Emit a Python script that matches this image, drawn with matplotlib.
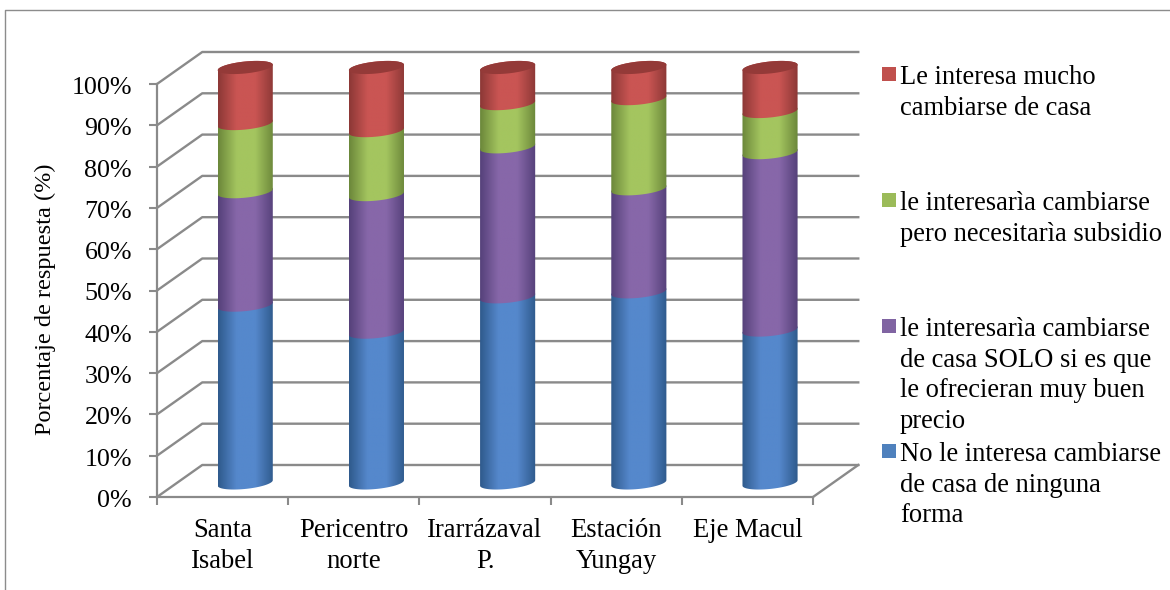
import numpy as np
import matplotlib
matplotlib.use('Agg')
import matplotlib.pyplot as plt
from matplotlib.colors import LinearSegmentedColormap
from matplotlib.patches import PathPatch, Polygon, Rectangle
from matplotlib.path import Path
from matplotlib.transforms import ScaledTranslation

plt.rcParams['font.family'] = ['Liberation Serif', 'DejaVu Serif']

categorias = ['Santa\nIsabel', 'Pericentro\nnorte', 'Irarrázaval\nP.', 'Estación\nYungay', 'Eje Macul']
no_interesa = [42.8, 36.3, 44.8, 46.0, 36.8]
solo_buen_precio = [27.3, 33.1, 36.1, 24.8, 42.7]
con_subsidio = [16.4, 15.4, 10.4, 21.7, 9.9]
interesa_mucho = [13.5, 15.2, 8.7, 7.5, 10.6]
pct_ticks = [0, 10, 20, 30, 40, 50, 60, 70, 80, 90, 100]

series = [no_interesa, solo_buen_precio, con_subsidio, interesa_mucho]
oscuro = ['#2f5a8c', '#55417a', '#6b873a', '#8c3836']
claro = ['#5588cc', '#8767a9', '#a4c55f', '#ca5553']
leyenda = ['No le interesa cambiarse\nde casa de ninguna\nforma',
           'le interesarìa cambiarse\nde casa SOLO si es que\nle ofrecieran muy buen\nprecio',
           'le interesarìa cambiarse\npero necesitarìa subsidio',
           'Le interesa mucho\ncambiarse de casa']
leyenda_y = [440, 315, 189, 63]
leyenda_col = ['#4f81bd', '#8064a2', '#9bbb59', '#c0504d']

W, H = 1170, 590
GRIS = '#8a8a8a'

# profundidad del piso 3D, en unidades de los ejes
DX, DY = 0.345, 7.75
# cilindros
A, B, INCL = 0.21, 1.45, 0.66
LIFT, ESC = 3.4, 1.006

fig = plt.figure(figsize=(W / 100, H / 100), dpi=100)
ax = fig.add_axes([157 / W, 1 - 497 / H, 656 / W, 413 / H])
ax.patch.set_visible(False)
ax.set_xlim(0, 5)
ax.set_ylim(0, 100)

for s in ['top', 'right']:
    ax.spines[s].set_visible(False)
for s in ['left', 'bottom']:
    ax.spines[s].set_color(GRIS)
    ax.spines[s].set_linewidth(1.6)

ax.set_yticks(pct_ticks)
ax.set_yticklabels([f'{p}%' for p in pct_ticks], fontsize=18.7)
ax.set_xticks(range(6))
ax.set_xticklabels([])
ax.set_xticks(np.arange(5) + 0.5, minor=True)
ax.set_xticklabels(categorias, minor=True, fontsize=19.2, linespacing=1.34)
ax.tick_params(axis='y', length=6, width=1.5, color=GRIS, pad=12)
ax.tick_params(axis='x', which='major', length=6, width=1.5, color=GRIS)
ax.tick_params(axis='x', which='minor', length=0, pad=15)
ax.set_ylabel('Porcentaje de respuesta (%)', fontsize=17.5)
ax.yaxis.set_label_coords(-101 / 656, 0.48)

# bajar un poco los porcentajes
baja = ScaledTranslation(0, -1.5 / 100, fig.dpi_scale_trans)
for lab in ax.get_yticklabels():
    lab.set_transform(lab.get_transform() + baja)

# grilla de las paredes
for p in pct_ticks:
    ax.plot([0, DX, 5 + DX], [p, p + DY, p + DY], color=GRIS, lw=1.7, clip_on=False, zorder=1)
ax.plot([5, 5 + DX], [0, DY], color=GRIS, lw=1.7, clip_on=False, zorder=1)


def elipse(cx, cy, t):
    return cx + A * np.cos(t), cy + B * np.sin(t) + INCL * np.cos(t)


def tramo(cx, y0, y1, k, z):
    # un trozo de cilindro con sombreado horizontal
    t_ab = np.linspace(np.pi, 2 * np.pi, 40)
    t_ar = np.linspace(0, np.pi, 40)
    xa, ya = elipse(cx, y0, t_ab)
    xb, yb = elipse(cx, y1, t_ar)
    verts = np.vstack([np.column_stack([xa, ya]), np.column_stack([xb, yb]), [[xa[0], ya[0]]]])
    cm = LinearSegmentedColormap.from_list('c', [oscuro[k], claro[k], claro[k], oscuro[k]])
    grad = np.linspace(0, 1, 128).reshape(1, -1)
    im = ax.imshow(grad, cmap=cm, extent=(cx - A, cx + A, y0 - 3, y1 + 3), aspect='auto',
                   zorder=z, interpolation='bilinear')
    clip = PathPatch(Path(verts), transform=ax.transData, fc='none', ec='none')
    ax.add_patch(clip)
    im.set_clip_path(clip)
    im.set_clip_box(fig.bbox)


for i in range(len(categorias)):
    cx = i + 0.5 + DX / 2
    base = 0
    for k, vals in enumerate(series):
        y0 = LIFT + base * ESC
        base = base + vals[i]
        y1 = LIFT + base * ESC
        tramo(cx, y0, y1, k, 3 + k)
    t = np.linspace(0, 2 * np.pi, 80)
    xt, yt = elipse(cx, y1, t)
    ax.add_patch(Polygon(np.column_stack([xt, yt]), fc='#943a38', ec='none', zorder=8, clip_on=False))

ax.set_xlim(0, 5)
ax.set_ylim(0, 100)

# leyenda a la derecha
for etiqueta, y, col in zip(leyenda, leyenda_y, leyenda_col):
    fig.patches.append(Rectangle((882 / W, 1 - (y + 18) / H), 14 / W, 14 / H, fc=col, ec='none',
                                 transform=fig.transFigure))
    fig.text(900 / W, 1 - (y + 2) / H, etiqueta, fontsize=19.1, va='top', ha='left', linespacing=1.29)

# marco exterior
fig.add_artist(plt.Line2D([5 / W, 5 / W, 1], [0, 1 - 10 / H, 1 - 10 / H], color='#8c8c8c', lw=1))

fig.savefig('out.png', dpi=100)
